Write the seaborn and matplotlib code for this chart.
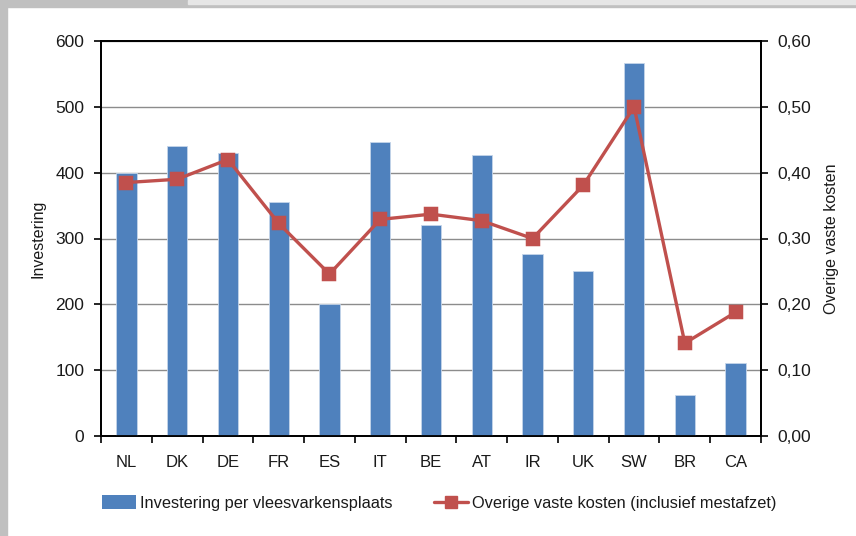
import matplotlib
matplotlib.use("Agg")
import matplotlib.pyplot as plt
import matplotlib.ticker as mticker
from matplotlib.patches import Rectangle
from matplotlib.lines import Line2D
import seaborn as sns
import pandas as pd

countries = ["NL", "DK", "DE", "FR", "ES", "IT", "BE", "AT", "IR", "UK", "SW", "BR", "CA"]
investering = [400, 440, 430, 355, 200, 446, 320, 427, 276, 250, 566, 62, 111]
overige_kosten = [0.385, 0.39, 0.42, 0.323, 0.246, 0.329, 0.337, 0.327, 0.30, 0.381, 0.50, 0.141, 0.188]

bar_label = "Investering per vleesvarkensplaats"
line_label = "Overige vaste kosten (inclusief mestafzet)"

sns.set_theme(style="white")
plt.rcParams["font.family"] = ["Liberation Sans", "DejaVu Sans"]

BLUE = "#4F81BD"
RED = "#C0504D"
TXT = "#1a1a1a"

df = pd.DataFrame({"land": countries, "inv": investering, "kost": overige_kosten})

fig = plt.figure(figsize=(8.56, 5.36), dpi=100)
ax = fig.add_axes([101/856, 1-436/536, 660/856, 395/536])
ax2 = ax.twinx()

# frame decorations
fig.patches.append(Rectangle((0, 0), 7/856, 1, transform=fig.transFigure, color="#c0c0c0", zorder=0))
fig.patches.append(Rectangle((0, 1-7/536), 1, 7/536, transform=fig.transFigure, color="#c0c0c0", zorder=0))
fig.patches.append(Rectangle((188/856, 1-4/536), 1, 4/536, transform=fig.transFigure, color="#e6e6e6", zorder=1))

sns.barplot(data=df, x="land", y="inv", ax=ax, color=BLUE, width=0.4, saturation=1,
            edgecolor="#c5d5ea", linewidth=0.6, zorder=3)
sns.pointplot(data=df, x="land", y="kost", ax=ax2, color=RED, markers="s",
              markersize=9, linewidth=2.4, zorder=4)

for a in (ax, ax2):
    a.set_xlim(-0.5, len(countries) - 0.5)

ax.set_ylim(0, 600)
ax.set_yticks(range(0, 601, 100))
ax2.set_ylim(0, 0.6)
ax2.set_yticks([i/10 for i in range(7)])
ax2.yaxis.set_major_formatter(mticker.FuncFormatter(lambda v, p: f"{v:.2f}".replace(".", ",")))

ax.yaxis.grid(True, color="#8c8c8c", linewidth=1.0)
ax.set_axisbelow(True)
ax2.grid(False)

ax.set_xlabel("")
ax.set_ylabel("Investering", fontsize=11.5, color=TXT, labelpad=7)
ax2.set_ylabel("Overige vaste kosten", fontsize=11.5, color=TXT, labelpad=9)

# x ticks between categories
ax.set_xticks(range(len(countries)))
ax.set_xticklabels(countries)
ax.set_xticks([i - 0.5 for i in range(len(countries) + 1)], minor=True)
ax.tick_params(axis="x", which="major", length=0, pad=14, labelsize=12, labelcolor=TXT)
ax.tick_params(axis="x", which="minor", length=5, width=1.2, color="black", direction="out", bottom=True)
ax.tick_params(axis="y", length=5, width=1.2, color="black", direction="out", left=True, labelsize=12.5, labelcolor=TXT, pad=7)
ax2.tick_params(axis="y", length=5, width=1.2, color="black", direction="out", right=True, labelsize=12.5, labelcolor=TXT, pad=7)
ax2.tick_params(axis="x", length=0)
ax2.set_xlabel("")

for a in (ax, ax2):
    for s in a.spines.values():
        s.set_visible(True)
        s.set_color("black")
        s.set_linewidth(1.3)

handles = [Rectangle((0, 0), 1, 1, facecolor=BLUE, edgecolor="none"),
           Line2D([0], [0], color=RED, lw=2.4, marker="s", markersize=9)]
fig.legend(handles, [bar_label, line_label], loc="center", bbox_to_anchor=(439/856, 1-503/536),
           ncol=2, frameon=False, fontsize=11.8, handlelength=2.1, handleheight=0.9,
           handletextpad=0.25, columnspacing=2.5, labelcolor=TXT)

fig.savefig("out.png", dpi=100, facecolor="white")
